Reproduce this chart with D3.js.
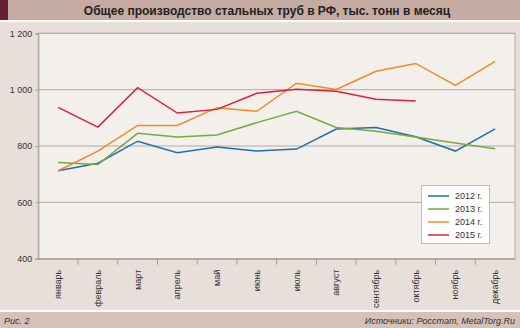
<!DOCTYPE html>
<html><head><meta charset="utf-8">
<script src="https://cdn.jsdelivr.net/npm/d3@7"></script>
<style>body{margin:0;background:#fff}svg{display:block;font-family:"Liberation Sans",Arial,sans-serif}</style>
</head><body><svg id="c" width="520" height="328"></svg>
<script>
const months = ["январь","февраль","март","апрель","май","июнь","июль","август","сентябрь","октябрь","ноябрь","декабрь"];
const s2012 = [712,739,817,776,796,782,789,860,866,833,782,861];
const s2013 = [741,734,845,832,839,883,923,866,852,832,811,790];
const s2014 = [712,782,873,873,936,923,1023,1001,1065,1093,1015,1100];
const s2015 = [937,867,1007,917,930,987,1001,994,966,960];
const seriesNames = ["2012 г.","2013 г.","2014 г.","2015 г."];
const seriesColors = ["#1c6fb3","#77a840","#f08a24","#dc1f3d"];
const yTicks = [400,600,800,1000,1200];
const title = "Общее производство стальных труб в РФ, тыс. тонн в месяц";
const figLabel = "Рис. 2";
const source = "Источники: Росстат, MetalTorg.Ru";

const svg = d3.select("#c");
const W = 520, H = 328;
// backgrounds
svg.append("rect").attr("width",W).attr("height",H).attr("fill","#e9dfda");
svg.append("rect").attr("width",W).attr("height",20).attr("fill","#c5aba1");
svg.append("rect").attr("width",8).attr("height",20).attr("fill","#6a1e36");
svg.append("rect").attr("y",20).attr("width",W).attr("height",2).attr("fill","#fff");
svg.append("rect").attr("y",310).attr("width",W).attr("height",2).attr("fill","#fff");
svg.append("rect").attr("y",312).attr("width",W).attr("height",16).attr("fill","#d4c1b8");
svg.append("text").attr("x",267).attr("y",14.5).attr("text-anchor","middle")
  .attr("font-size",12).attr("font-weight","bold").attr("fill","#222").text(title);
svg.append("text").attr("x",4).attr("y",323.5).attr("font-size",9).attr("font-style","italic").attr("fill","#333").text(figLabel);
svg.append("text").attr("x",515).attr("y",323.5).attr("text-anchor","end").attr("font-size",9).attr("font-style","italic").attr("fill","#333").text(source);

const m = {l:38.3, r:515, t:33.3, b:258.7};
const x = d3.scaleBand().domain(months).range([m.l,m.r]);
const y = d3.scaleLinear().domain([400,1200]).range([m.b,m.t]);

svg.append("rect").attr("x",m.l).attr("y",m.t).attr("width",m.r-m.l).attr("height",m.b-m.t)
  .attr("fill","#f3efeb").attr("stroke","#b9b0aa").attr("stroke-width",1);

// grid
svg.append("g").selectAll("line").data(yTicks).join("line")
  .attr("x1",m.l).attr("x2",m.r).attr("y1",d=>y(d)).attr("y2",d=>y(d))
  .attr("stroke","#b3aaa4").attr("stroke-width",1);

// y axis
const ya = svg.append("g").attr("transform",`translate(${m.l},0)`)
  .call(d3.axisLeft(y).tickValues(yTicks).tickSize(3).tickPadding(3)
    .tickFormat(d=>d3.format(",")(d).replace(",", " ")));
ya.select(".domain").attr("stroke","#a59c96");
ya.selectAll(".tick line").attr("stroke","#a59c96");
ya.selectAll("text").attr("font-size",9).attr("fill","#333").attr("font-family","inherit");

// x axis
const xa = svg.append("g").attr("transform",`translate(0,${m.b})`)
  .call(d3.axisBottom(x).tickSize(0).tickFormat(""));
xa.select(".domain").attr("stroke","#a59c96");
const bounds = d3.range(1,months.length).map(i=>m.l + i*x.step());
xa.selectAll(".bnd").data(bounds).join("line").attr("class","bnd")
  .attr("x1",d=>d).attr("x2",d=>d).attr("y1",0).attr("y2",6).attr("stroke","#a59c96");
xa.selectAll(".lbl").data(months).join("text").attr("class","lbl")
  .attr("transform",d=>`translate(${x(d)+x.bandwidth()/2+3},11) rotate(-90)`)
  .attr("text-anchor","end").attr("font-size",9).attr("fill","#333").text(d=>d);

// lines
const all = [s2012,s2013,s2014,s2015];
const line = d3.line().x((d,i)=>x(months[i])+x.bandwidth()/2).y(d=>y(d));
svg.append("g").selectAll("path").data(all).join("path")
  .attr("d",line).attr("fill","none").attr("stroke",(d,i)=>seriesColors[i])
  .attr("stroke-width",1.5).attr("stroke-linejoin","miter");

// legend
const lg = svg.append("g");
lg.append("rect").attr("x",421.5).attr("y",185.5).attr("width",68).attr("height",58)
  .attr("fill","#fff").attr("stroke","#c4bbb5");
const ly = d3.scalePoint().domain(seriesNames).range([196,235]);
lg.selectAll("line").data(seriesNames).join("line")
  .attr("x1",428).attr("x2",449).attr("y1",d=>ly(d)).attr("y2",d=>ly(d))
  .attr("stroke",(d,i)=>seriesColors[i]).attr("stroke-width",1.5);
lg.selectAll("text").data(seriesNames).join("text")
  .attr("x",455).attr("y",d=>ly(d)+3.3).attr("font-size",9).attr("fill","#333").text(d=>d);
</script></body></html>
